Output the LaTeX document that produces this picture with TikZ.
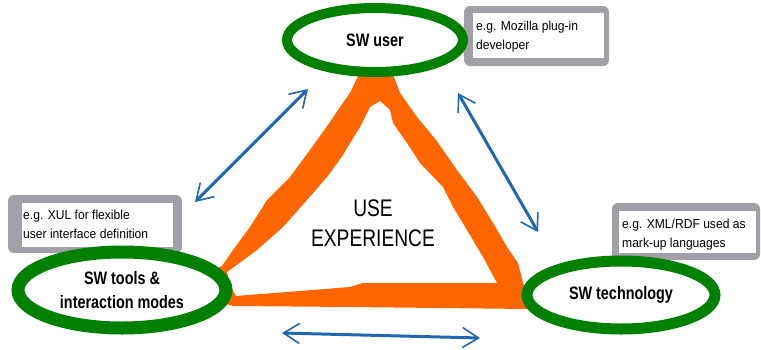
\documentclass[tikz,border=0pt]{standalone}
\usepackage{fontspec}
\setmainfont{Liberation Sans}
\newfontfamily\narrowsans[FakeStretch=0.8]{Liberation Sans}
\newfontfamily\notesans[FakeStretch=0.93]{Liberation Sans}
\usetikzlibrary{shapes.geometric,arrows.meta}
\definecolor{ringgreen}{RGB}{0,128,0}
\definecolor{bandorange}{RGB}{255,102,0}
\definecolor{arrowblue}{RGB}{32,102,178}
\definecolor{notegray}{RGB}{160,160,166}

\begin{document}
\begin{tikzpicture}[x=1pt,y=-1pt,
  ring/.style={ellipse, draw=ringgreen, fill=white, inner sep=0pt, align=center,
    font=\narrowsans\bfseries\fontsize{18}{24}\selectfont},
  link/.style={draw=arrowblue, line width=3pt,
    {Straight Barb[length=16pt,width=20pt,line width=1.6pt]}-{Straight Barb[length=16pt,width=20pt,line width=1.6pt]}},
  notetext/.style={anchor=base west, inner sep=0pt, align=left,
    font=\notesans\fontsize{13}{18.5}\selectfont},
  noteback/.style={fill=notegray, rounded corners=6pt},
]
\useasboundingbox (0,0) rectangle (761,349);

% example callouts: grey backing card with a white label on it
\fill[noteback] (464,6) rectangle (609,66);
\fill[white] (473,13) rectangle (604,58);
\node[notetext] (userex) at (476,49) {e.g. Mozilla plug-in\\developer};

\fill[noteback] (8,195) rectangle (182,253);
\fill[white] (22,203) rectangle (173,247);
\node[notetext] (toolsex) at (23,238) {e.g. XUL for flexible\\user interface definition};

\fill[noteback] (612,203) rectangle (760,260);
\fill[white] (619,211) rectangle (756,253);
\node[notetext] (techex) at (622,247) {e.g. XML/RDF used as\\mark-up languages};

% orange triangle band
\fill[bandorange, even odd rule]
  (360,72) -- (392,72) -- (400,93) -- (417,117) -- (436,140) -- (457,170)
  -- (477,197) -- (493,223) -- (507,247) -- (518,263) -- (523,283) -- (530,300)
  -- (528,309) -- (350,307) -- (233,306) -- (212,300) -- (212,270) -- (222,266)
  -- (233,250) -- (250,227) -- (267,200) -- (290,177) -- (310,150) -- (330,122)
  -- (340,107) -- (350,93) -- cycle
  (380,101) -- (390,110) -- (393,123) -- (407,143) -- (420,163) -- (443,187)
  -- (453,207) -- (467,230) -- (483,257) -- (497,283) -- (363,283) -- (350,287)
  -- (236,296) -- (230,285) -- (227,272) -- (257,250) -- (283,227) -- (307,200)
  -- (327,177) -- (343,155) -- (350,143) -- (360,127) -- (370,107) -- cycle;

\node[font=\narrowsans\fontsize{24}{30}\selectfont, align=center] (ux) at (373,223) {USE\\EXPERIENCE};

% the three corners
\node[ring, line width=10pt, minimum width=176pt, minimum height=64pt] (user) at (375,40) {SW user};
\node[ring, line width=13pt, minimum width=208pt, minimum height=76pt] (tools) at (122,290) {SW tools \&\\interaction modes};
\node[ring, line width=11pt, minimum width=188pt, minimum height=68pt] (tech) at (621,295) {SW technology};

% interplay arrows
\coordinate (tu1) at (195,202);
\coordinate (tu2) at (308,89);
\coordinate (ut1) at (458,93);
\coordinate (ut2) at (538,232);
\coordinate (tt1) at (282,333);
\coordinate (tt2) at (480,338);
\draw[link] (tu1) -- (tu2);
\draw[link] (ut1) -- (ut2);
\draw[link] (tt1) -- (tt2);
\end{tikzpicture}
\end{document}
